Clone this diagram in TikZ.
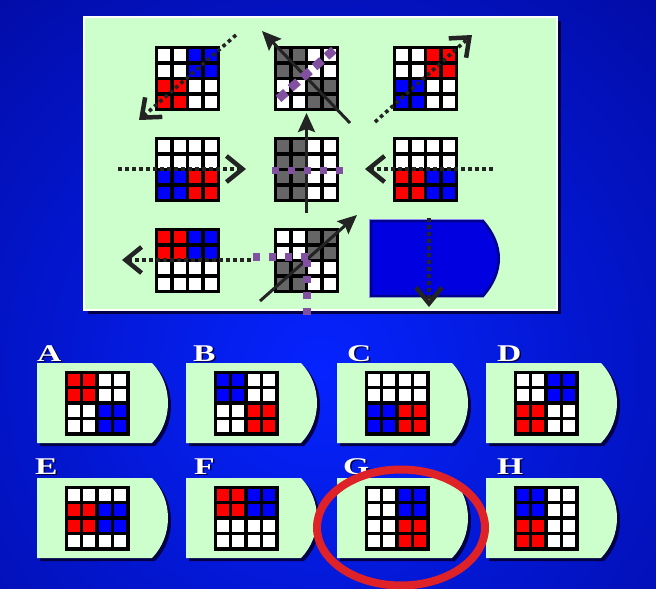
\documentclass[tikz,border=0pt]{standalone}
\usepackage{fontspec}
\usepackage{graphicx}
\setmainfont{Liberation Serif}
\usetikzlibrary{arrows.meta}
\definecolor{gW}{RGB}{255,255,255}
\definecolor{gR}{RGB}{255,0,0}
\definecolor{gB}{RGB}{0,0,255}
\definecolor{gG}{RGB}{102,102,102}
\definecolor{panelgreen}{RGB}{204,255,204}
\definecolor{bgin}{RGB}{5,35,255}
\definecolor{bgout}{RGB}{0,0,120}
\definecolor{pmark}{RGB}{130,80,160}
\definecolor{darkarrow}{RGB}{35,35,35}
\definecolor{shadownavy}{RGB}{0,0,70}
\definecolor{ringred}{RGB}{222,34,40}
\definecolor{slotblue}{RGB}{0,0,225}
\definecolor{slotedge}{RGB}{0,0,140}
\newcommand\cellgrid[3]{%
  \foreach \cl [count=\k from 0] in {#3}{%
    \pgfmathtruncatemacro\rr{int(\k/4)}%
    \pgfmathtruncatemacro\cc{mod(\k,4)}%
    \fill[fill=\cl] ({#1+1.5+\cc*15.5},{#2+1.5+\rr*15.5}) rectangle ++(15.5,15.5);
  }%
  \foreach \k in {0,...,4}{%
    \draw[gridln] ({#1+1.6+\k*15.45},#2) -- ++(0,65);
    \draw[gridln] (#1,{#2+1.6+\k*15.45}) -- ++(65,0);
  }%
}
\newcommand\cardshape[3]{%
  \fill[#3] (#1,#2) -- ({#1+115},#2) .. controls ({#1+136.3},{#2+22}) and ({#1+136.3},{#2+58}) .. ({#1+115},{#2+80}) -- (#1,{#2+80}) -- cycle;
}
\newcommand\optcard[7]{% x0, y0, name, letter, letter x, letter baseline, list
  \cardshape{#1+3}{#2+3}{shadownavy}
  \cardshape{#1}{#2}{panelgreen}
  \cellgrid{#1+27.5}{#2+7.5}{#7}
  \node[letterlbl,text=shadownavy] at ({#5+1.5},{#6+1.5}) {\scalebox{1.4}[1]{#4}};
  \node[letterlbl] (#3) at (#5,#6) {\scalebox{1.4}[1]{#4}};
}
\begin{document}
\begin{tikzpicture}[x=1pt,y=-1pt,
  gridln/.style={line width=3.2pt,black},
  dotarrow/.style={darkarrow,line width=3.6pt,dash pattern=on 3.6pt off 3.4pt,-{Straight Barb[length=16pt,width=26pt,line width=4.5pt]}},
  solidarrow/.style={darkarrow,line width=3pt,-{Stealth[length=19pt,width=17pt,inset=3pt]}},
  purpdots/.style={pmark,line width=7.5pt,dash pattern=on 7.5pt off 8.5pt},
  purpdiag/.style={pmark,line width=8.5pt,dash pattern=on 10pt off 6pt},
  letterlbl/.style={text=white,font=\bfseries\fontsize{24}{24}\selectfont,inner sep=0pt,anchor=base west}]
\useasboundingbox (0,0) rectangle (656,589);
\begin{scope}
  \clip (0,0) rectangle (656,589);
  \shade[inner color=bgin,outer color=bgout] (320,370) circle [radius=760pt];
\end{scope}
% panel
\fill[shadownavy] (88,21) rectangle (561,314);
\fill[panelgreen] (84,17) rectangle (557,310);
\draw[white,line width=1.2pt] (84,17) rectangle (557,310);
% grids
\cellgrid{155}{46}{gW,gW,gB,gB,gW,gW,gB,gB,gR,gR,gW,gW,gR,gR,gW,gW}
\cellgrid{274}{46}{gG,gG,gW,gW,gG,gG,gW,gW,gW,gW,gG,gG,gW,gW,gG,gG}
\cellgrid{393}{46}{gW,gW,gR,gR,gW,gW,gR,gR,gB,gB,gW,gW,gB,gB,gW,gW}
\cellgrid{155}{137}{gW,gW,gW,gW,gW,gW,gW,gW,gB,gB,gR,gR,gB,gB,gR,gR}
\cellgrid{274}{137}{gG,gG,gW,gW,gG,gG,gW,gW,gG,gG,gW,gW,gG,gG,gW,gW}
\cellgrid{393}{137}{gW,gW,gW,gW,gW,gW,gW,gW,gR,gR,gB,gB,gR,gR,gB,gB}
\cellgrid{155}{228}{gR,gR,gB,gB,gR,gR,gB,gB,gW,gW,gW,gW,gW,gW,gW,gW}
\cellgrid{274}{228}{gW,gW,gG,gG,gW,gW,gG,gG,gG,gG,gW,gW,gG,gG,gW,gW}
% blank slot
\filldraw[fill=slotblue,draw=slotedge,line width=2.5pt] (371,221) -- (483,221) .. controls (504,245) and (504,272) .. (483,296) -- (371,296) -- cycle;
\draw[white!55!slotblue,line width=1pt] (369,219.5) -- (484,219.5);
\draw[white!55!slotblue,line width=1pt] (369.5,219) -- (369.5,298);
% coordinates
\coordinate (tlS) at (236,35);   \coordinate (tlE) at (139,120);
\coordinate (trS) at (375,122);  \coordinate (trE) at (472,35);
\coordinate (mlS) at (118,169);  \coordinate (mlE) at (246,169);
\coordinate (mrS) at (493,169);  \coordinate (mrE) at (365,169);
\coordinate (blS) at (251,260);  \coordinate (blE) at (122,260);
\coordinate (brS) at (429,218);  \coordinate (brE) at (429,307);
\coordinate (tdS) at (350,123);  \coordinate (tdE) at (262,31);
\coordinate (vS) at (306.5,213); \coordinate (vE) at (306.5,113);
\coordinate (bdS) at (260,301);  \coordinate (bdE) at (357,215);
\coordinate (p1S) at (278.5,98.8); \coordinate (p1E) at (333.8,50);
\coordinate (p2S) at (271.5,170.5); \coordinate (p2E) at (343.5,170.5);
\coordinate (p3S) at (252.5,257); \coordinate (p3E) at (308.5,257);
\coordinate (p4S) at (307,259.5); \coordinate (p4E) at (307,314.5);
% dotted arrows
\draw[dotarrow] (tlS) -- (tlE);
\draw[dotarrow] (trS) -- (trE);
\draw[dotarrow] (mlS) -- (mlE);
\draw[dotarrow] (mrS) -- (mrE);
\draw[dotarrow] (blS) -- (blE);
\draw[dotarrow] (brS) -- (brE);
% solid arrows
\draw[solidarrow] (tdS) -- (tdE);
\draw[solidarrow] (vS) -- (vE);
\draw[solidarrow] (bdS) -- (bdE);
% purple marks
\draw[purpdiag] (p1S) -- (p1E);
\draw[purpdots] (p2S) -- (p2E);
\draw[purpdots] (p3S) -- (p3E);
\draw[purpdots] (p4S) -- (p4E);
% option cards
\optcard{37}{363}{lA}{A}{37}{361}{gR,gR,gW,gW,gR,gR,gW,gW,gW,gW,gB,gB,gW,gW,gB,gB}
\optcard{186}{363}{lB}{B}{193}{361}{gB,gB,gW,gW,gB,gB,gW,gW,gW,gW,gR,gR,gW,gW,gR,gR}
\optcard{337}{363}{lC}{C}{347}{361}{gW,gW,gW,gW,gW,gW,gW,gW,gB,gB,gR,gR,gB,gB,gR,gR}
\optcard{486}{363}{lD}{D}{497}{361}{gW,gW,gB,gB,gW,gW,gB,gB,gR,gR,gW,gW,gR,gR,gW,gW}
\optcard{37}{478}{lE}{E}{35}{474}{gW,gW,gW,gW,gR,gR,gB,gB,gR,gR,gB,gB,gW,gW,gW,gW}
\optcard{186}{478}{lF}{F}{194}{474}{gR,gR,gB,gB,gR,gR,gB,gB,gW,gW,gW,gW,gW,gW,gW,gW}
\optcard{337}{478}{lG}{G}{343}{474}{gW,gW,gB,gB,gW,gW,gB,gB,gW,gW,gR,gR,gW,gW,gR,gR}
\optcard{486}{478}{lH}{H}{497}{474}{gB,gB,gW,gW,gB,gB,gW,gW,gR,gR,gW,gW,gR,gR,gW,gW}
% answer ring
\draw[ringred,line width=8pt] (401,527.5) ellipse [x radius=84pt, y radius=58pt];
\end{tikzpicture}
\end{document}
